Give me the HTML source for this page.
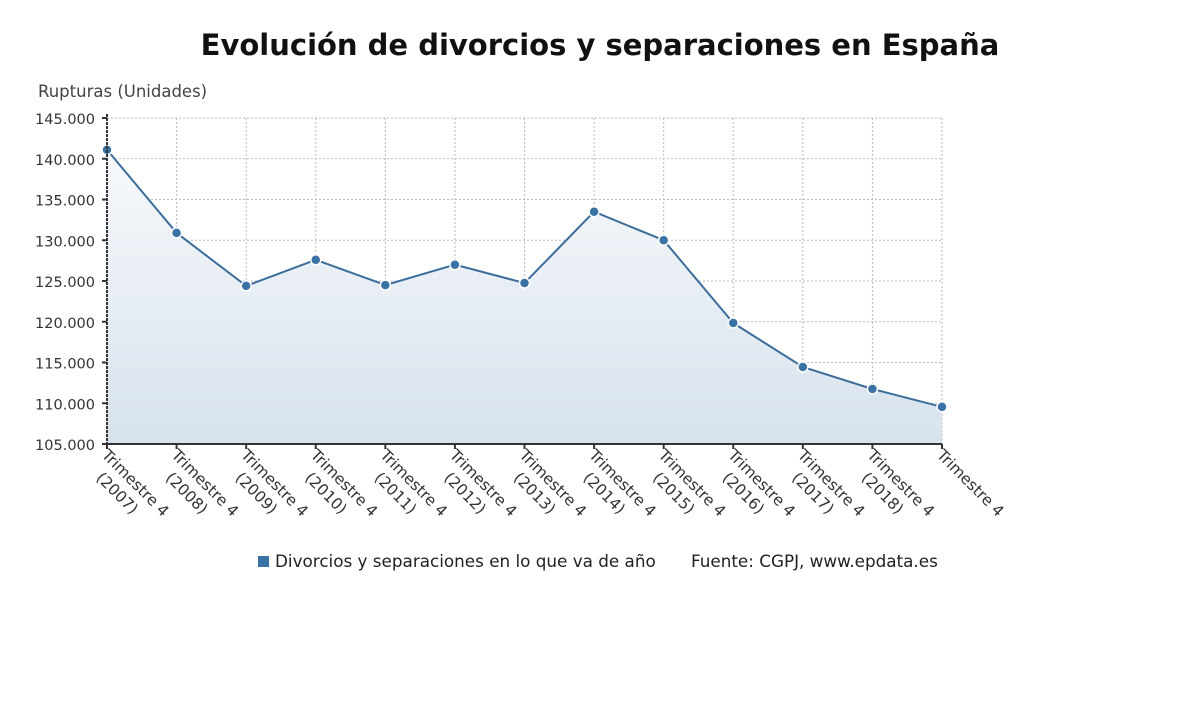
<!DOCTYPE html>
<html><head><meta charset="utf-8"><style>
body{margin:0;background:#fff;width:1200px;height:705px;overflow:hidden;font-family:"DejaVu Sans","Liberation Sans",sans-serif;}
</style></head><body>
<svg id="chart" width="1200" height="705" xmlns="http://www.w3.org/2000/svg" font-family="DejaVu Sans, Liberation Sans, sans-serif">
<defs><linearGradient id="g" x1="0" y1="0" x2="0" y2="1"><stop offset="0" stop-color="#f7f9fc"/><stop offset="1" stop-color="#d7e2ec"/></linearGradient></defs>
<text x="600" y="55" text-anchor="middle" font-size="29" font-weight="bold" fill="#111">Evolución de divorcios y separaciones en España</text>
<text x="38" y="97" font-size="16.5" fill="#444">Rupturas (Unidades)</text>
<g id="grid"></g><g id="marks"></g><g id="axes"></g>
<g>
<rect x="258" y="556" width="11" height="11" fill="#3a72a6"/>
<text x="275" y="567" font-size="16.8" fill="#222">Divorcios y separaciones en lo que va de año</text>
<text x="691" y="567" font-size="16.8" fill="#222">Fuente: CGPJ, www.epdata.es</text>
</g>
</svg>
<script>
const categories=["Trimestre 4|(2007)","Trimestre 4|(2008)","Trimestre 4|(2009)","Trimestre 4|(2010)","Trimestre 4|(2011)","Trimestre 4|(2012)","Trimestre 4|(2013)","Trimestre 4|(2014)","Trimestre 4|(2015)","Trimestre 4|(2016)","Trimestre 4|(2017)","Trimestre 4|(2018)","Trimestre 4"];
const values=[141100,130900,124400,127600,124500,127000,124750,133500,130000,119850,114450,111750,109550];
const yTicks=[105000,110000,115000,120000,125000,130000,135000,140000,145000];
const yTickLabels=["105.000","110.000","115.000","120.000","125.000","130.000","135.000","140.000","145.000"];
const NS="http://www.w3.org/2000/svg";
const x0=107,x1=942,yTop=118,yBot=444,yMin=105000,yMax=145000;
const xs=i=>x0+(x1-x0)*i/(categories.length-1);
const ys=v=>yBot-(v-yMin)/(yMax-yMin)*(yBot-yTop);
function mk(tag,attrs,parent){const e=document.createElementNS(NS,tag);for(const k in attrs)e.setAttribute(k,attrs[k]);document.getElementById(parent).appendChild(e);return e;}
yTicks.forEach((t,i)=>{
 const l=mk('line',{x1:x0,x2:x1,y1:ys(t),y2:ys(t),stroke:'#bbb','stroke-dasharray':'2,2'},'grid');
 
 
 const tk=mk('line',{x1:x0-5,x2:x0,y1:ys(t),y2:ys(t),stroke:'#333','stroke-width':2},'axes');
 
 
 const tx=mk('text',{x:x0-12,y:ys(t)+6,'text-anchor':'end','font-size':14.5,fill:'#333'},'axes');
 tx.textContent=yTickLabels[i];
 
 
});
categories.forEach((c,i)=>{
 if(i>0){const l=mk('line',{x1:xs(i),x2:xs(i),y1:yTop,y2:yBot,stroke:'#bbb','stroke-dasharray':'2,2'},'grid');
 
 }
 const tk=mk('line',{x1:xs(i),x2:xs(i),y1:yBot,y2:yBot+5,stroke:'#333','stroke-width':2},'axes');
 
 
 const parts=c.split('|');
 const t=mk('text',{transform:`translate(${xs(i)-6},${yBot+12}) rotate(45)`,'font-size':15.5,fill:'#333'},'axes');
 
 
 parts.forEach((p,j)=>{const s=document.createElementNS(NS,'tspan');s.setAttribute('x',j*12);s.setAttribute('dy',j?20:0);s.textContent=p;t.appendChild(s);});
});
mk('line',{x1:x0,x2:x0,y1:yTop-4,y2:yBot,stroke:'#333','stroke-width':2,'stroke-dasharray':'3,1'},'axes');
mk('line',{x1:x0,x2:x1,y1:yBot,y2:yBot,stroke:'#333','stroke-width':2},'axes');
let d=values.map((v,i)=>(i?'L':'M')+xs(i)+','+ys(v)).join(' ');
const area=mk('path',{d:d+` L${xs(values.length-1)},${yBot} L${x0},${yBot} Z`,fill:'url(#g)'},'marks');


const line=mk('path',{d:d,fill:'none',stroke:'#3a6d9a','stroke-width':2},'marks');


values.forEach((v,i)=>{
 const p=mk('circle',{cx:xs(i),cy:ys(v),r:5,fill:'#3a72a6',stroke:'#fff','stroke-width':1.5},'marks');
 
 
});
</script>
</body></html>
